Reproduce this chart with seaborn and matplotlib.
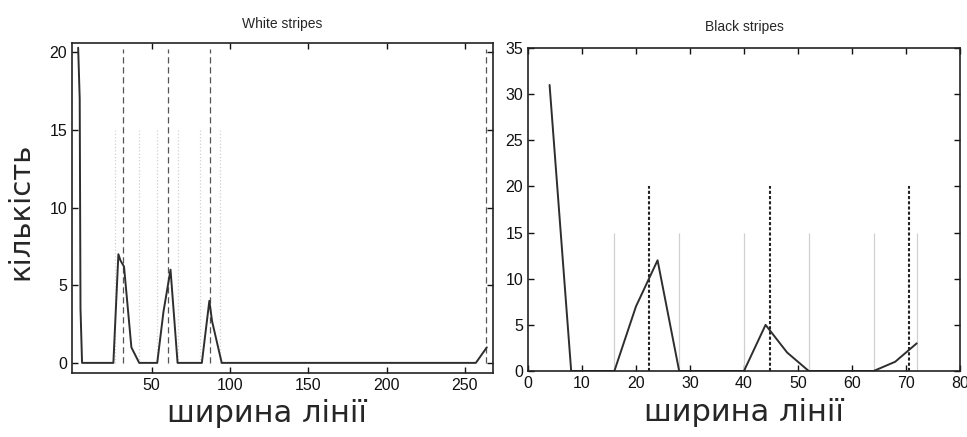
import matplotlib
matplotlib.use("Agg")
import matplotlib.pyplot as plt
import seaborn as sns

# =========================
# DATA
# =========================
white_x = [3, 4, 4.5, 5.5, 25.5, 28.7, 30, 32.3, 37, 42, 53.5, 57.5, 62, 66.5,
           82, 86.8, 88.5, 94.7, 257, 264]
white_y = [20.3, 17, 3.5, 0, 0, 7, 6.6, 6.2, 1, 0, 0, 3.3, 6, 0,
           0, 4, 2.7, 0, 0, 1]
white_centres = [31.9, 60.6, 87.2, 263.5]
white_bounds = [26.6, 42, 53.4, 66.8, 80.8, 93.6]

black_x = [4, 8, 12, 16, 20, 24, 28, 32, 36, 40, 44, 48, 52, 56, 60, 64, 68, 72]
black_y = [31, 0, 0, 0, 7, 12, 0, 0, 0, 0, 5, 2, 0, 0, 0, 0, 1, 3]
black_centres = [22.5, 44.8, 70.6]
black_bounds = [16, 28, 40, 52, 64, 72]

xlabel = "ширина лінії"
ylabel = "кількість"

# =========================
# STYLE
# =========================
sns.set_style("ticks")
plt.rcParams["font.family"] = ["Liberation Sans", "DejaVu Sans"]
plt.rcParams["xtick.direction"] = "in"
plt.rcParams["ytick.direction"] = "in"
plt.rcParams["xtick.top"] = True
plt.rcParams["ytick.right"] = True
plt.rcParams["axes.linewidth"] = 1.2

fig = plt.figure(figsize=(9.67, 4.37), dpi=100)
ax1 = fig.add_axes([0.0745, 0.1465, 0.4354, 0.755])
ax2 = fig.add_axes([0.546, 0.151, 0.4467, 0.739])

line_col = "#2e2e2e"
faint = "#d0d0d0"

# =========================
# WHITE STRIPES
# =========================
ax1.vlines(white_bounds, 0, 15, color=faint, lw=0.9, linestyles=":")
ax1.vlines(white_centres, 0, 20.2, color="#555555", lw=0.9, linestyles=(0, (5, 3)))
sns.lineplot(x=white_x, y=white_y, ax=ax1, color=line_col, lw=1.4, sort=False)
ax1.set_xlim(-0.9, 268)
ax1.set_ylim(-0.65, 20.6)
ax1.set_xticks([50, 100, 150, 200, 250])
ax1.set_yticks([0, 5, 10, 15, 20])
ax1.set_title("White stripes", fontsize=10, pad=11)

# =========================
# BLACK STRIPES
# =========================
ax2.vlines(black_bounds, 0, 15, color=faint, lw=0.9)
ax2.vlines(black_centres, 0, 20, color="#222222", lw=1.5, linestyles=(0, (1.5, 1)))
sns.lineplot(x=black_x, y=black_y, ax=ax2, color=line_col, lw=1.4, sort=False)
ax2.set_xlim(0, 80)
ax2.set_ylim(0, 35)
ax2.set_xticks(range(0, 81, 10))
ax2.set_yticks(range(0, 36, 5))
ax2.set_title("Black stripes", fontsize=10, pad=12)

for ax in (ax1, ax2):
    ax.tick_params(labelsize=11.5, length=4, width=1, colors="#111111")
    for s in ax.spines.values():
        s.set_color("#222222")

ax1.set_xlabel(xlabel, fontsize=22, family=["DejaVu Sans"])
ax2.set_xlabel(xlabel, fontsize=22, family=["DejaVu Sans"])
ax1.xaxis.set_label_coords(0.464, -0.08)
ax2.xaxis.set_label_coords(0.5, -0.085)
ax1.set_ylabel(ylabel, fontsize=21, family=["DejaVu Sans"])
ax1.yaxis.set_label_coords(-0.09, 0.49)

fig.savefig("out.png", dpi=100)
